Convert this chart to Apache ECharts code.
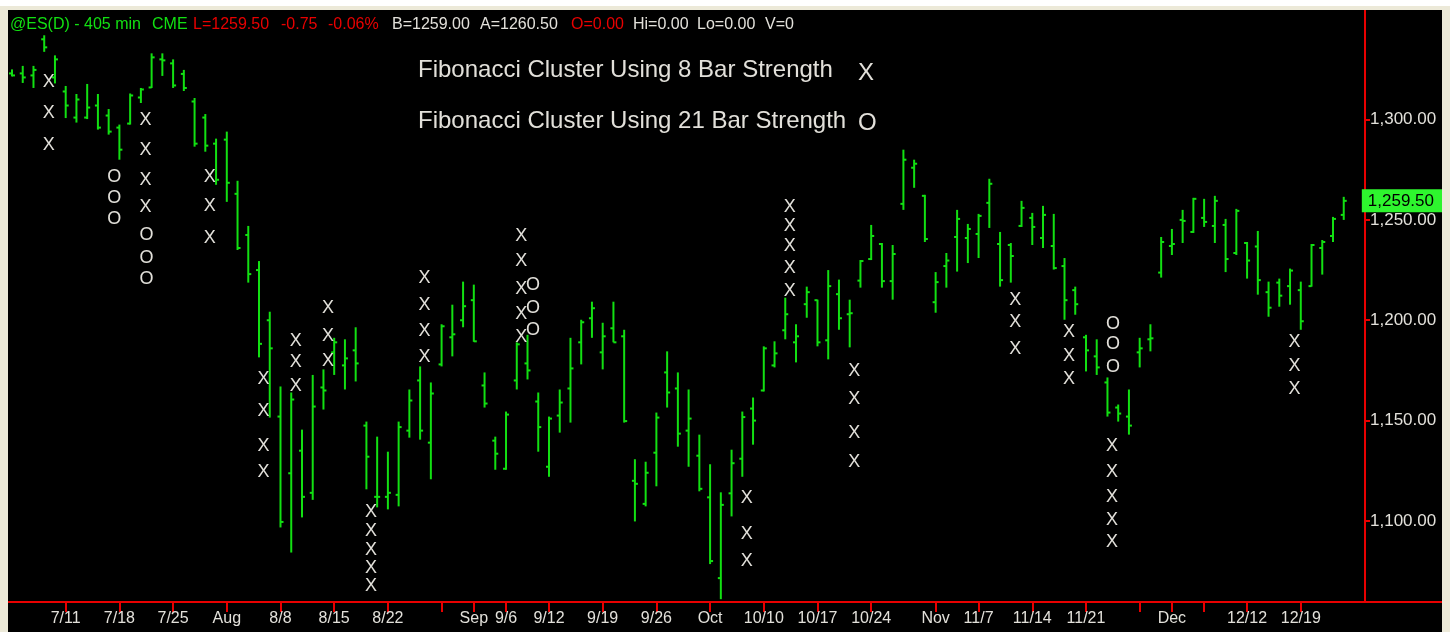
<!DOCTYPE html>
<html>
<head>
<meta charset="utf-8">
<script src="https://cdn.jsdelivr.net/npm/echarts@6/dist/echarts.min.js"></script>
<style>
html, body { margin: 0; padding: 0; width: 1450px; height: 632px; overflow: hidden; background: #ece9d8; }
#topstrip { position: absolute; left: 0; top: 0; width: 1450px; height: 6px; background: #ffffff; }
#chart { position: absolute; left: 8px; top: 10px; width: 1434px; height: 622px; }
</style>
</head>
<body>
<div id="topstrip"></div>
<div id="chart"></div>
<script>
// trading sessions, 4 Jul – 23 Dec 2011
const tradeDates = [
  '7/4', '7/5', '7/6', '7/7', '7/8', '7/11', '7/12', '7/13', '7/14', '7/15', '7/18', '7/19', '7/20', '7/21', '7/22', '7/25', '7/26', '7/27', '7/28', '7/29',
  '8/1', '8/2', '8/3', '8/4', '8/5', '8/8', '8/9', '8/10', '8/11', '8/12', '8/15', '8/16', '8/17', '8/18', '8/19', '8/22', '8/23', '8/24', '8/25', '8/26', '8/29', '8/30', '8/31',
  '9/1', '9/2', '9/5', '9/6', '9/7', '9/8', '9/9', '9/12', '9/13', '9/14', '9/15', '9/16', '9/19', '9/20', '9/21', '9/22', '9/23', '9/26', '9/27', '9/28', '9/29', '9/30',
  '10/3', '10/4', '10/5', '10/6', '10/7', '10/10', '10/11', '10/12', '10/13', '10/14', '10/17', '10/18', '10/19', '10/20', '10/21', '10/24', '10/25', '10/26', '10/27', '10/28', '10/31',
  '11/1', '11/2', '11/3', '11/4', '11/7', '11/8', '11/9', '11/10', '11/11', '11/14', '11/15', '11/16', '11/17', '11/18', '11/21', '11/22', '11/23', '11/24', '11/25', '11/28', '11/29', '11/30',
  '12/1', '12/2', '12/5', '12/6', '12/7', '12/8', '12/9', '12/12', '12/13', '12/14', '12/15', '12/16', '12/19', '12/20', '12/21', '12/22', '12/23',
]

const opens = [
  1323, 1323, 1322, 1340, 1321, 1314, 1301, 1301, 1307, 1302, 1296, 1298, 1311, 1316, 1330, 1328, 1322.75, 1309, 1301, 1288,
  1290, 1263, 1242.5, 1225, 1200, 1152, 1123.75, 1135, 1114, 1166.5, 1184, 1177.5, 1185, 1147.5, 1112, 1112, 1113, 1145, 1170, 1139, 1178, 1191.5, 1200,
  1210, 1167.5, 1140, 1126, 1170, 1178.5, 1159.5, 1127, 1152.5, 1166, 1189, 1201, 1184, 1196, 1192, 1120, 1108.5, 1134, 1174, 1166, 1145, 1132.5,
  1111.75, 1071.5, 1113.75, 1131, 1156, 1165, 1177.5, 1195, 1189, 1208, 1210, 1190, 1213, 1203, 1219.75, 1230.5, 1238, 1219.5, 1258, 1276, 1262,
  1209, 1227, 1241.5, 1241, 1243, 1258.5, 1238, 1237.5, 1247, 1251, 1241, 1237, 1227, 1215, 1191.5, 1182, 1169, 1156.5, 1152, 1184, 1190.5, 1223.75,
  1237, 1250, 1244, 1251, 1247, 1247.5, 1233.5, 1238.5, 1236.75, 1214, 1218.75, 1217, 1215, 1217, 1236, 1242, 1252.5,
]
const highs = [
  1325, 1326.75, 1326.75, 1342, 1332, 1316.75, 1312.75, 1317.75, 1312.75, 1305.25, 1297.5, 1313, 1315.75, 1333, 1333, 1330, 1324.75, 1310.75, 1302.75, 1290.5,
  1294, 1269.5, 1247, 1229.5, 1204.25, 1167, 1164, 1145.5, 1172.75, 1175.5, 1191.25, 1190.5, 1196.5, 1149.5, 1142, 1134.5, 1149.5, 1165.5, 1177, 1169, 1198, 1207.75, 1219.25,
  1217.75, 1174, 1142, 1154.5, 1189, 1192.75, 1164, 1152, 1165.5, 1191.25, 1200.25, 1209.25, 1198.75, 1209.25, 1195.25, 1130.75, 1129.5, 1154, 1184.5, 1174, 1165.5, 1143,
  1128.25, 1114.25, 1135.5, 1154.5, 1161.5, 1187, 1189.5, 1211.25, 1198, 1216.75, 1210.25, 1225, 1220.25, 1210.25, 1230, 1247.5, 1238.5, 1237.5, 1285, 1280, 1262.5,
  1224, 1233.5, 1255, 1248, 1253, 1270.5, 1244, 1238.5, 1259.5, 1253.5, 1257, 1253, 1231, 1216.75, 1192.75, 1190.5, 1171.5, 1158, 1165.5, 1191.25, 1198, 1241.5,
  1245.5, 1255, 1261, 1260.5, 1262, 1250.5, 1255.5, 1239, 1244.5, 1219.25, 1220.75, 1225.75, 1219.25, 1238, 1240, 1251.5, 1261.5,
]
const lows = [
  1321.5, 1318.25, 1315.75, 1333.75, 1318, 1300.75, 1298.5, 1300.25, 1295, 1292.5, 1280, 1297.5, 1308.25, 1315.75, 1321.75, 1315.75, 1314.25, 1286.5, 1284, 1267.5,
  1259, 1235, 1218.75, 1181.5, 1151.5, 1096.75, 1084.25, 1101.75, 1110.5, 1155.5, 1172.75, 1165.5, 1169.5, 1115.75, 1106.75, 1105.75, 1107.25, 1141.5, 1140.5, 1120.75, 1177, 1182, 1196.5,
  1189.25, 1156.5, 1125.5, 1125.5, 1165.5, 1170.5, 1134.5, 1122, 1144, 1149, 1178, 1191.25, 1175.5, 1189, 1149, 1099.75, 1107.25, 1117.25, 1156.5, 1137, 1127, 1114.75,
  1078.5, 1061, 1102.25, 1122, 1138, 1164.5, 1176.5, 1190.5, 1179, 1201.25, 1187, 1180.5, 1195.25, 1186.5, 1216.25, 1230, 1216.25, 1210.25, 1255, 1266, 1239,
  1203.75, 1216.25, 1224.25, 1228.5, 1231, 1246, 1216.75, 1218.75, 1246.5, 1237.5, 1236, 1225.25, 1200.25, 1202.75, 1174.5, 1172.75, 1152, 1149.5, 1143, 1176.5, 1184.5, 1221.25,
  1232.5, 1238.5, 1243.5, 1246.5, 1238.5, 1224, 1232.5, 1220.75, 1212.75, 1201.75, 1206.75, 1207.75, 1195.25, 1216.75, 1222.75, 1239, 1250,
]
const closes = [
  1322, 1321, 1324.75, 1336, 1330, 1307, 1310, 1306, 1296, 1294, 1285, 1312, 1315, 1331, 1329.5, 1317, 1315.75, 1288, 1287, 1270,
  1268.5, 1236, 1223, 1188.25, 1186, 1099.5, 1160.5, 1112, 1157, 1165, 1189, 1181, 1178.5, 1132, 1112, 1114, 1146.75, 1160, 1145, 1163.5, 1197, 1193, 1207,
  1189.5, 1158.5, 1133.5, 1153, 1188, 1175, 1146.75, 1151, 1159, 1176, 1199, 1206, 1192, 1189, 1149.75, 1118.5, 1124, 1151.5, 1164, 1143.5, 1151, 1116,
  1080, 1108, 1128.75, 1151.75, 1150, 1186, 1183.5, 1203, 1192, 1214, 1189, 1217, 1201, 1203.5, 1229.5, 1242, 1219.5, 1233, 1280, 1278, 1240.5,
  1219, 1229.75, 1250.5, 1245.5, 1252, 1268, 1220, 1232, 1256, 1246.5, 1252.5, 1226, 1210, 1208, 1185, 1176.5, 1154, 1153.5, 1147.5, 1186, 1191, 1239,
  1238, 1249.5, 1260.5, 1249, 1259.5, 1230.5, 1254.5, 1229.75, 1220, 1206.25, 1212.25, 1224.75, 1199.5, 1237.5, 1239, 1250.5, 1259.5,
]

// Fibonacci clusters: [session index, price]
const cluster8 = [
  [3, 1318.75], [3, 1303.25], [3, 1287.5],
  [12, 1300], [12, 1285], [12, 1270], [12, 1256.5],
  [18, 1271.5], [18, 1257], [18, 1240.75],
  [23, 1170.5], [23, 1155], [23, 1137.25], [23, 1124.25],
  [26, 1189.5], [26, 1179], [26, 1167],
  [29, 1206.25], [29, 1192], [29, 1179.5],
  [33, 1104.25], [33, 1094.75], [33, 1085.5], [33, 1076.5], [33, 1067.5],
  [38, 1221.25], [38, 1207.75], [38, 1194.5], [38, 1181.5],
  [47, 1242], [47, 1229.75], [47, 1215.75], [47, 1203.25], [47, 1191.5],
  [68, 1111.25], [68, 1093.5], [68, 1080],
  [72, 1256.5], [72, 1247], [72, 1236.75], [72, 1226.25], [72, 1214.75],
  [78, 1174.5], [78, 1160.5], [78, 1144], [78, 1129.25],
  [93, 1210.25], [93, 1199], [93, 1185.5],
  [98, 1194], [98, 1182], [98, 1170.5],
  [102, 1137.25], [102, 1124.25], [102, 1111.75], [102, 1100.25], [102, 1089.5],
  [119, 1189], [119, 1177], [119, 1165.5],
]
const cluster21 = [
  [9, 1271.5], [9, 1261], [9, 1250.5],
  [12, 1242.5], [12, 1231.25], [12, 1220.75],
  [48, 1217.75], [48, 1206.25], [48, 1195.25],
  [102, 1198], [102, 1188], [102, 1176.5],
]

const tickDates = ['7/11', '7/18', '7/25', '8/1', '8/8', '8/15', '8/22', '8/29', '9/1', '9/6', '9/12', '9/19', '9/26', '10/3', '10/10', '10/17', '10/24', '11/1', '11/7', '11/14', '11/21', '11/28', '12/1', '12/6', '12/12', '12/19']
const tickText = ['7/11', '7/18', '7/25', 'Aug', '8/8', '8/15', '8/22', '', 'Sep', '9/6', '9/12', '9/19', '9/26', 'Oct', '10/10', '10/17', '10/24', 'Nov', '11/7', '11/14', '11/21', '', 'Dec', '', '12/12', '12/19']
const priceTicks = [1100, 1150, 1200, 1250, 1300]
const lastPrice = 1259.5

const FONT = '"Liberation Sans", Arial, sans-serif'
const GREEN = '#12e012'
const RED = '#e80000'
const TEXT = '#e2e0da'

const tickIdx = tickDates.map(d => tradeDates.indexOf(d))
const labelIdx = tickIdx.filter((v, k) => tickText[k] !== '')
const ohlc = tradeDates.map((d, i) => [i, opens[i], highs[i], lows[i], closes[i]])
const fmtPrice = v => Number(v).toLocaleString('en-US', { minimumFractionDigits: 2, maximumFractionDigits: 2 })

function renderBar(params, api) {
  const x = api.value(0)
  const o = api.coord([x, api.value(1)])
  const h = api.coord([x, api.value(2)])
  const l = api.coord([x, api.value(3)])
  const c = api.coord([x, api.value(4)])
  const style = { stroke: GREEN, lineWidth: 2 }
  return {
    type: 'group',
    children: [
      { type: 'line', shape: { x1: h[0], y1: h[1], x2: l[0], y2: l[1] }, style },
      { type: 'line', shape: { x1: o[0] - 3, y1: o[1], x2: o[0], y2: o[1] }, style },
      { type: 'line', shape: { x1: c[0], y1: c[1], x2: c[0] + 3, y2: c[1] }, style },
    ],
  }
}

function markRenderer(glyph) {
  return function (params, api) {
    const p = api.coord([api.value(0), api.value(1)])
    return {
      type: 'text',
      x: p[0] - 1.5,
      y: p[1],
      style: { text: glyph, fill: TEXT, font: '18px ' + FONT, align: 'left', verticalAlign: 'middle' },
    }
  }
}

const header = [
  ['@ES(D) - 405 min', 10, GREEN], ['CME', 152, GREEN],
  ['L=1259.50', 193, RED], ['-0.75', 281, RED], ['-0.06%', 328, RED],
  ['B=1259.00', 392, TEXT], ['A=1260.50', 480, TEXT], ['O=0.00', 571, RED],
  ['Hi=0.00', 633, TEXT], ['Lo=0.00', 697, TEXT], ['V=0', 765, TEXT],
]

const myChart = echarts.init(document.getElementById('chart'))
myChart.setOption({
  backgroundColor: '#000000',
  animation: false,
  grid: { left: 0, right: 77, top: 0, bottom: 30 },
  xAxis: {
    type: 'value',
    min: -0.3724,
    max: 125.98,
    splitLine: { show: false },
    axisLine: { onZero: false, lineStyle: { color: RED, width: 2 } },
    axisTick: { customValues: tickIdx, length: 10, lineStyle: { color: RED, width: 2 } },
    axisLabel: {
      customValues: labelIdx,
      formatter: v => tickText[tickIdx.indexOf(v)],
      color: TEXT,
      fontFamily: FONT,
      fontSize: 16,
      margin: 9,
    },
  },
  yAxis: {
    type: 'value',
    position: 'right',
    min: 1059.6,
    max: 1354.6,
    splitLine: { show: false },
    axisLine: { show: true, onZero: false, lineStyle: { color: RED, width: 2 } },
    axisTick: { customValues: priceTicks, length: 5, lineStyle: { color: RED, width: 2 } },
    axisLabel: {
      customValues: priceTicks,
      formatter: fmtPrice,
      color: TEXT,
      fontFamily: FONT,
      fontSize: 17,
      margin: 5,
    },
    axisPointer: {
      show: true,
      type: 'none',
      value: lastPrice,
      status: 'show',
      triggerTooltip: false,
      label: {
        show: true,
        formatter: p => fmtPrice(p.value),
        backgroundColor: '#2ef52e',
        color: '#000000',
        fontFamily: FONT,
        fontSize: 17,
        padding: [3, 8, 3, 6],
        margin: 1,
        borderRadius: 0,
        shadowBlur: 0,
      },
    },
  },
  graphic: [
    // bottom rule continues under the price scale
    { type: 'line', shape: { x1: 1357, y1: 592, x2: 1434, y2: 592 }, style: { stroke: RED, lineWidth: 2 } },
    ...header.map(([text, x, fill]) => ({
      type: 'text', left: x - 8, top: 7,
      style: { text, fill, font: '16px ' + FONT },
    })),
    { type: 'text', left: 410, top: 48, style: { text: 'Fibonacci Cluster Using 8 Bar Strength', fill: TEXT, font: '24px ' + FONT } },
    { type: 'text', left: 850, top: 51, style: { text: 'X', fill: TEXT, font: '24px ' + FONT } },
    { type: 'text', left: 410, top: 99, style: { text: 'Fibonacci Cluster Using 21 Bar Strength', fill: TEXT, font: '24px ' + FONT } },
    { type: 'text', left: 850, top: 101, style: { text: 'O', fill: TEXT, font: '24px ' + FONT } },
  ],
  series: [
    { name: 'ES', type: 'custom', renderItem: renderBar, data: ohlc, encode: { x: 0, y: [1, 2, 3, 4] } },
    { name: '8 bar', type: 'custom', renderItem: markRenderer('X'), data: cluster8, encode: { x: 0, y: 1 } },
    { name: '21 bar', type: 'custom', renderItem: markRenderer('O'), data: cluster21, encode: { x: 0, y: 1 } },
  ],
})
</script>
</body>
</html>
